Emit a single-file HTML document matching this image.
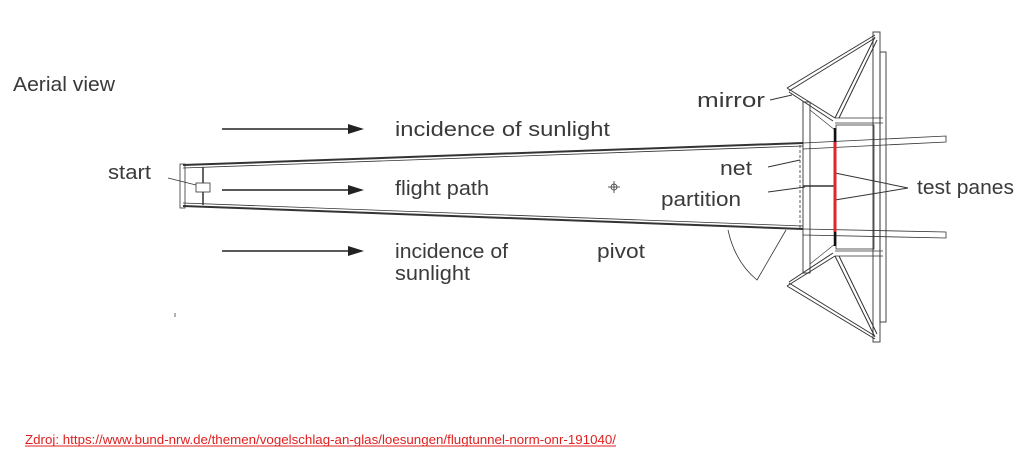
<!DOCTYPE html>
<html><head><meta charset="utf-8"><style>
html,body{margin:0;padding:0;background:#fff;width:1024px;height:457px;overflow:hidden}
svg{position:absolute;left:0;top:0}
text{font-family:"Liberation Sans",sans-serif;fill:#3a3a3a}
</style></head><body>
<svg width="1024" height="457" viewBox="0 0 1024 457">
<g font-size="20">
<text x="13" y="91" textLength="102" lengthAdjust="spacingAndGlyphs">Aerial view</text>
<text x="395" y="136" textLength="215" lengthAdjust="spacingAndGlyphs">incidence of sunlight</text>
<text x="395" y="195" textLength="94" lengthAdjust="spacingAndGlyphs">flight path</text>
<text x="395" y="258" textLength="113" lengthAdjust="spacingAndGlyphs">incidence of</text>
<text x="395" y="280" textLength="75" lengthAdjust="spacingAndGlyphs">sunlight</text>
<text x="597" y="258" textLength="48" lengthAdjust="spacingAndGlyphs">pivot</text>
<text x="108" y="179" textLength="43" lengthAdjust="spacingAndGlyphs">start</text>
<text x="697" y="107" textLength="68" lengthAdjust="spacingAndGlyphs">mirror</text>
<text x="720" y="175" textLength="32" lengthAdjust="spacingAndGlyphs">net</text>
<text x="661" y="206" textLength="80" lengthAdjust="spacingAndGlyphs">partition</text>
<text x="917" y="194" textLength="97" lengthAdjust="spacingAndGlyphs">test panes</text>
</g>
<g stroke="#222" fill="#222">
<line x1="222" y1="129" x2="350" y2="129" stroke-width="1.5"/><polygon points="348,124 364,129 348,134" stroke="none"/>
<line x1="222" y1="190" x2="350" y2="190" stroke-width="1.5"/><polygon points="348,185 364,190 348,195" stroke="none"/>
<line x1="222" y1="251" x2="350" y2="251" stroke-width="1.5"/><polygon points="348,246 364,251 348,256" stroke="none"/>
</g>
<g fill="none" stroke="#333">
<line x1="183" y1="165" x2="803" y2="143" stroke-width="2"/>
<line x1="183" y1="168" x2="803" y2="146" stroke-width="0.8"/>
<line x1="183" y1="206" x2="803" y2="229" stroke-width="2"/>
<line x1="183" y1="203" x2="803" y2="226" stroke-width="0.8"/>
<rect x="180" y="164" width="5" height="44" stroke-width="0.8"/>
<line x1="203" y1="167" x2="203" y2="205" stroke-width="1.5"/>
<rect x="196" y="183" width="14" height="9" stroke-width="0.8" fill="#fff"/>
<line x1="168" y1="178" x2="196" y2="185" stroke-width="0.8"/>
<circle cx="614" cy="187" r="3" stroke-width="0.8"/>
<line x1="608" y1="187" x2="620" y2="187" stroke-width="0.8"/>
<line x1="614" y1="181" x2="614" y2="193" stroke-width="0.8"/>
<path d="M728,230 Q735,262 757,280 L786,230" stroke-width="0.8"/>
<rect x="803" y="102" width="7" height="171" stroke-width="0.9"/>
<rect x="873" y="32" width="7" height="310" stroke-width="0.9"/>
<rect x="880" y="52" width="6" height="270" stroke-width="0.9"/>
<path d="M787,88 L875,35 M789,91 L875,38 M787,88 L835,118 M789,92 L833,121 M835,118 L875,37 M839,118 L877,40" stroke-width="1"/>
<path d="M787,286 L875,339 M789,283 L875,336 M787,286 L835,256 M789,282 L833,253 M835,256 L875,337 M839,256 L877,334" stroke-width="1"/>
<line x1="835" y1="118" x2="883" y2="118" stroke-width="0.8"/>
<line x1="835" y1="123" x2="883" y2="123" stroke-width="0.8"/>
<line x1="835" y1="251" x2="883" y2="251" stroke-width="0.8"/>
<line x1="835" y1="256" x2="883" y2="256" stroke-width="0.8"/>
<line x1="810" y1="110" x2="835" y2="130" stroke-width="0.6"/>
<line x1="810" y1="264" x2="835" y2="244" stroke-width="0.6"/>
<path d="M803,143 L946,136 L946,142 L803,149" stroke-width="0.8"/>
<path d="M803,229 L946,232 L946,238 L803,235" stroke-width="0.8"/>
<rect x="836" y="125" width="38" height="124" stroke-width="0.8"/>
<line x1="800" y1="145" x2="800" y2="228" stroke-width="0.8" stroke-dasharray="3,2"/>
<line x1="803" y1="186" x2="835" y2="186" stroke-width="1.5"/>
<line x1="770" y1="100" x2="792" y2="95" stroke-width="0.9"/>
<line x1="768" y1="167" x2="800" y2="160" stroke-width="0.9"/>
<line x1="768" y1="192" x2="805" y2="187" stroke-width="0.9"/>
<polyline points="835,173 908,188 835,200" stroke-width="1"/>
</g>
<line x1="835" y1="128" x2="835" y2="142" stroke="#111" stroke-width="2.5"/>
<line x1="835" y1="232" x2="835" y2="246" stroke="#111" stroke-width="2.5"/>
<line x1="835" y1="142" x2="835" y2="232" stroke="#e0262a" stroke-width="3"/>
<line x1="175" y1="313" x2="175" y2="317" stroke="#666" stroke-width="1"/>
<text x="25" y="444" font-size="13" style="fill:#e02020" textLength="591" lengthAdjust="spacingAndGlyphs">Zdroj: https://www.bund-nrw.de/themen/vogelschlag-an-glas/loesungen/flugtunnel-norm-onr-191040/</text>
<line x1="25" y1="446" x2="616" y2="446" stroke="#e02020" stroke-width="1"/>
</svg>
</body></html>
